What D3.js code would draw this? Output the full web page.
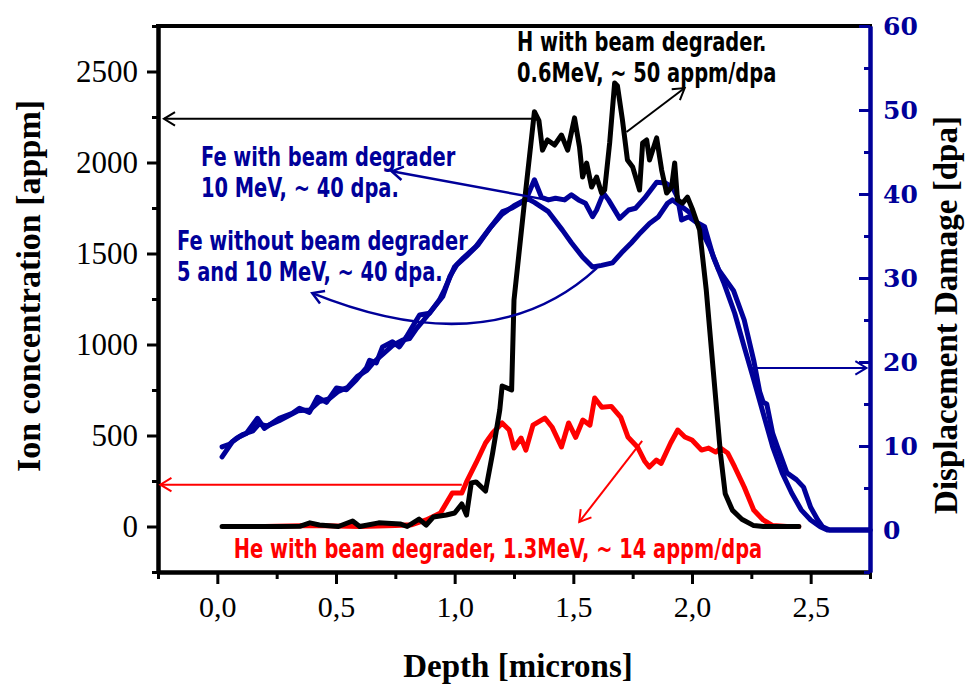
<!DOCTYPE html>
<html>
<head>
<meta charset="utf-8">
<script src="https://cdn.jsdelivr.net/npm/d3@7"></script>
<style>
  body { margin: 0; background: #fff; }
  svg { display: block; }
</style>
</head>
<body>
<div id="chart"></div>
<script>
// ---- data ----
// H ion concentration (left axis, appm)
var depthH = [0.02,0.26,0.35,0.39,0.43,0.51,0.57,0.60,0.68,0.77,0.80,0.85,0.88,0.91,0.965,1.00,1.03,1.05,1.07,1.09,1.13,1.16,1.19,1.20,1.24,1.25,1.295,1.336,1.355,1.370,1.391,1.421,1.450,1.476,1.505,1.526,1.539,1.556,1.577,1.598,1.619,1.632,1.653,1.674,1.686,1.707,1.728,1.750,1.779,1.792,1.809,1.821,1.851,1.872,1.893,1.914,1.927,1.939,1.960,1.981,2.003,2.032,2.06,2.09,2.12,2.14,2.17,2.21,2.26,2.30,2.45];
var ionH = [0,0,2,20,8,0,30,0,20,14,0,41,8,52,63,74,124,63,239,245,195,404,640,772,750,1244,1794,2279,2230,2068,2124,2096,2151,2068,2245,2085,1920,1997,1865,1920,1832,1849,2107,2437,2420,2233,2014,1975,1849,2107,2124,2014,2135,1959,1832,1865,1997,1794,1777,1810,1739,1629,1300,850,400,180,90,40,5,0,0];

// He ion concentration (left axis, appm)
var depthHe = [0.05,0.2,0.4,0.6,0.75,0.82,0.88,0.94,0.99,1.03,1.05,1.09,1.13,1.16,1.20,1.23,1.25,1.28,1.30,1.33,1.38,1.41,1.45,1.48,1.51,1.54,1.57,1.59,1.62,1.66,1.70,1.73,1.77,1.80,1.82,1.85,1.87,1.91,1.94,1.97,2.00,2.04,2.07,2.10,2.12,2.15,2.18,2.22,2.26,2.30,2.34,2.40,2.45];
var ionHe = [0,0,5,0,5,10,36,74,184,184,245,349,459,514,569,530,431,486,420,557,596,547,437,569,490,585,557,706,655,660,600,492,437,360,327,365,347,459,530,492,475,420,431,409,431,404,327,217,91,36,5,0,0];

// Fe with beam degrader (right axis, dpa)
var depthFeWith = [0.02,0.063,0.093,0.122,0.169,0.198,0.261,0.316,0.346,0.388,0.422,0.460,0.502,0.544,0.586,0.628,0.641,0.670,0.696,0.738,0.767,0.797,0.822,0.852,0.894,0.936,0.957,0.999,1.037,1.088,1.142,1.202,1.239,1.282,1.303,1.336,1.366,1.395,1.425,1.463,1.492,1.522,1.551,1.581,1.598,1.627,1.648,1.695,1.733,1.762,1.800,1.851,1.889,1.918,1.939,1.956,1.986,2.015,2.053,2.09,2.133,2.18,2.22,2.26,2.30,2.34,2.38,2.42,2.46,2.50,2.54,2.57,2.75];
var dpaFeWith = [8.7,10.5,11.1,11.5,13.3,12.1,13.3,13.9,14.5,14.0,15.8,15.2,16.9,16.7,17.9,19.3,20.2,19.9,21.8,22.4,21.8,23.0,24.2,25.6,25.8,27.4,28.6,31.3,32.4,33.7,35.7,37.9,38.3,39.0,39.5,41.7,39.6,39.3,39.5,39.3,39.9,39.3,38.9,37.3,38.1,40.1,39.3,37.1,38.1,38.3,39.5,41.4,41.3,40.8,39.6,36.9,37.3,36.7,36.1,32.5,29.5,25.8,21.8,17.9,13.9,9.9,6.8,4.4,2.4,1.2,0.4,0,0];

// Fe without beam degrader (right axis, dpa)
var depthFeWithout = [0.02,0.05,0.08,0.11,0.15,0.175,0.21,0.26,0.30,0.34,0.39,0.43,0.47,0.51,0.55,0.59,0.63,0.66,0.70,0.74,0.78,0.81,0.84,0.87,0.91,0.95,0.98,1.01,1.05,1.10,1.15,1.20,1.25,1.29,1.31,1.336,1.395,1.454,1.492,1.539,1.581,1.619,1.665,1.703,1.745,1.783,1.821,1.859,1.897,1.918,1.956,1.994,2.032,2.074,2.112,2.175,2.22,2.26,2.285,2.30,2.315,2.34,2.36,2.40,2.44,2.47,2.50,2.53,2.55,2.58,2.75];
var dpaFeWithout = [9.9,10.2,10.9,11.4,11.8,12.6,12.4,13.0,13.6,14.2,14.3,15.3,15.6,16.5,17.0,18.3,19.0,20.0,21.0,22.0,22.6,22.8,24.0,25.0,26.4,27.8,30.2,31.6,32.6,34.0,36.0,37.6,38.6,39.2,39.4,39.0,37.9,35.7,34.2,32.5,31.3,31.5,31.8,33.0,34.2,35.4,36.5,37.3,38.9,39.3,38.5,37.7,36.1,33.7,31.0,28.5,25.0,20.2,16.5,15.2,15.0,11.5,9.9,6.8,6.0,5.1,2.7,1.2,0.4,0,0];

// tick values
var xMajor = [0, 0.5, 1.0, 1.5, 2.0, 2.5];
var xMinor = [-0.25, 0.25, 0.75, 1.25, 1.75, 2.25, 2.75];
var yLeftMajor = [0, 500, 1000, 1500, 2000, 2500];
var yLeftMinor = [-250, 250, 750, 1250, 1750, 2250, 2750];
var yRightMajor = [0, 10, 20, 30, 40, 50, 60];
var yRightMinor = [-5, 5, 15, 25, 35, 45, 55];

var BLUE = "#000099", RED = "#ff0000", BLACK = "#000";

var width = 967, height = 686;
var svg = d3.select("#chart").append("svg")
  .attr("width", width)
  .attr("height", height);

// scales
var x = d3.scaleLinear().domain([-0.25, 2.75]).range([158, 870]);
var yL = d3.scaleLinear().domain([-250, 2750]).range([572, 26]);
var yR = d3.scaleLinear().domain([-5, 60]).range([572, 26]);

function zip(a, b) { return a.map(function(d, i) { return [d, b[i]]; }); }

// curves
var lineL = d3.line().x(function(d) { return x(d[0]); }).y(function(d) { return yL(d[1]); });
var lineR = d3.line().x(function(d) { return x(d[0]); }).y(function(d) { return yR(d[1]); });

var curves = svg.append("g").attr("fill", "none")
  .attr("stroke-width", 5).attr("stroke-linejoin", "round").attr("stroke-linecap", "round");

curves.append("path").attr("d", lineR(zip(depthFeWithout, dpaFeWithout))).attr("stroke", BLUE);
curves.append("path").attr("d", lineR(zip(depthFeWith, dpaFeWith))).attr("stroke", BLUE);
curves.append("path").attr("d", lineL(zip(depthHe, ionHe))).attr("stroke", RED);
curves.append("path").attr("d", lineL(zip(depthH, ionH))).attr("stroke", BLACK);

// ---- axes ----
function styleAxis(g, color) {
  g.select(".domain").attr("stroke", color).attr("stroke-width", 4);
  g.selectAll(".tick line").attr("stroke", color).attr("stroke-width", 3);
}

// top frame line
svg.append("line")
  .attr("x1", x.range()[0]).attr("x2", x.range()[1])
  .attr("y1", yL.range()[1]).attr("y2", yL.range()[1])
  .attr("stroke", BLACK).attr("stroke-width", 4).attr("stroke-linecap", "square");

var gx = svg.append("g").attr("transform", "translate(0," + yL.range()[0] + ")");
gx.append("g").call(d3.axisBottom(x).tickValues(xMinor).tickSize(7).tickSizeOuter(0).tickFormat(""))
  .call(styleAxis, BLACK);
gx.append("g").call(d3.axisBottom(x).tickValues(xMajor).tickSize(12).tickSizeOuter(0).tickPadding(12)
    .tickFormat(function(d) { return d3.format(".1f")(d).replace(".", ","); }))
  .call(styleAxis, BLACK)
  .selectAll("text").style("font-family", "'Liberation Serif', serif").style("font-size", "30px").attr("fill", BLACK);

var gl = svg.append("g").attr("transform", "translate(" + x.range()[0] + ",0)");
gl.append("g").call(d3.axisLeft(yL).tickValues(yLeftMinor).tickSize(6).tickSizeOuter(0).tickFormat(""))
  .call(styleAxis, BLACK);
gl.append("g").call(d3.axisLeft(yL).tickValues(yLeftMajor).tickSize(11).tickSizeOuter(0).tickPadding(9)
    .tickFormat(d3.format("d")))
  .call(styleAxis, BLACK)
  .selectAll("text").style("font-family", "'Liberation Serif', serif").style("font-size", "31px").attr("fill", BLACK);

var gr = svg.append("g").attr("transform", "translate(" + x.range()[1] + ",0)");
gr.append("g").call(d3.axisRight(yR).tickValues(yRightMinor).tickSizeInner(-6).tickSizeOuter(0).tickFormat(""))
  .call(styleAxis, BLUE);
gr.append("g").call(d3.axisRight(yR).tickValues(yRightMajor).tickSizeInner(-11).tickSizeOuter(0).tickPadding(13))
  .call(styleAxis, BLUE)
  .selectAll("text").style("font-family", "'DejaVu Serif', serif").style("font-weight", "bold")
  .style("font-size", "25px").attr("fill", BLUE);

// axis titles
svg.append("text")
  .attr("transform", "translate(40,286) rotate(-90)")
  .attr("text-anchor", "middle")
  .style("font-family", "'Liberation Serif', serif").style("font-weight", "bold").style("font-size", "34px")
  .text("Ion concentration [appm]");

svg.append("text")
  .attr("transform", "translate(957,315) rotate(-90)")
  .attr("text-anchor", "middle")
  .style("font-family", "'Liberation Serif', serif").style("font-weight", "bold").style("font-size", "33px")
  .text("Displacement Damage [dpa]");

svg.append("text")
  .attr("x", 518).attr("y", 677)
  .attr("text-anchor", "middle")
  .style("font-family", "'Liberation Serif', serif").style("font-weight", "bold").style("font-size", "33px")
  .text("Depth [microns]");

// ---- annotation arrows ----
function arrowHead(g, p0, p1, color, w) {
  var a = Math.atan2(p1[1] - p0[1], p1[0] - p0[0]), L = 13, s = 0.55;
  var pA = [p1[0] - L * Math.cos(a - s), p1[1] - L * Math.sin(a - s)];
  var pB = [p1[0] - L * Math.cos(a + s), p1[1] - L * Math.sin(a + s)];
  g.append("path")
    .attr("d", "M" + pA + "L" + p1 + "L" + pB)
    .attr("fill", "none").attr("stroke", color).attr("stroke-width", w)
    .attr("stroke-linejoin", "miter");
}
function straightArrow(p0, p1, color, w) {
  var g = svg.append("g");
  g.append("line").attr("x1", p0[0]).attr("y1", p0[1]).attr("x2", p1[0]).attr("y2", p1[1])
    .attr("stroke", color).attr("stroke-width", w);
  arrowHead(g, p0, p1, color, w);
}

// H: to left axis, and to its label
straightArrow([x(1.33), yL(2240)], [x(-0.225), yL(2240)], BLACK, 2);
straightArrow([x(1.724), yL(2168)], [x(1.969), yL(2409)], BLACK, 2);
// He: to left axis, and to its label
straightArrow([x(1.03), yL(230)], [x(-0.24), yL(230)], RED, 2);
straightArrow([x(1.79), yL(470)], [x(1.525), yL(25)], RED, 2);
// Fe with degrader label
straightArrow([x(1.39), yR(39.3)], [x(0.735), yR(42.7)], BLUE, 2.5);
// Fe: to right axis
straightArrow([x(2.25), yR(19.3)], [x(2.735), yR(19.3)], BLUE, 2);
// Fe without degrader: curved arrow
(function() {
  var p0 = [x(1.6), yR(31.2)], c = [x(1.155), yR(19.6)], p1 = [x(0.40), yR(28.2)];
  var g = svg.append("g");
  g.append("path").attr("d", "M" + p0 + "Q" + c + " " + p1)
    .attr("fill", "none").attr("stroke", BLUE).attr("stroke-width", 2.5);
  arrowHead(g, c, p1, BLUE, 2.5);
})();

// ---- annotation texts (condensed sans, squeezed horizontally) ----
function label(txt, px, py, color, anchor) {
  svg.append("text")
    .attr("transform", "translate(" + px + "," + py + ") scale(0.8,1)")
    .attr("text-anchor", anchor || "start")
    .style("font-family", "'DejaVu Sans Condensed', 'DejaVu Sans', sans-serif")
    .style("font-weight", "bold").style("font-size", "27px")
    .attr("fill", color).text(txt);
}
label("H with beam degrader.", 517, 51, BLACK);
label("0.6MeV, ~ 50 appm/dpa", 517, 82, BLACK);
label("Fe with beam degrader", 201, 166, BLUE);
label("10 MeV, ~ 40 dpa.", 201, 197, BLUE);
label("Fe without beam degrader", 177, 250, BLUE);
label("5 and 10 MeV, ~ 40 dpa.", 177, 281, BLUE);
label("He with beam degrader, 1.3MeV, ~ 14 appm/dpa", 498, 558, RED, "middle");
</script>
</body>
</html>
